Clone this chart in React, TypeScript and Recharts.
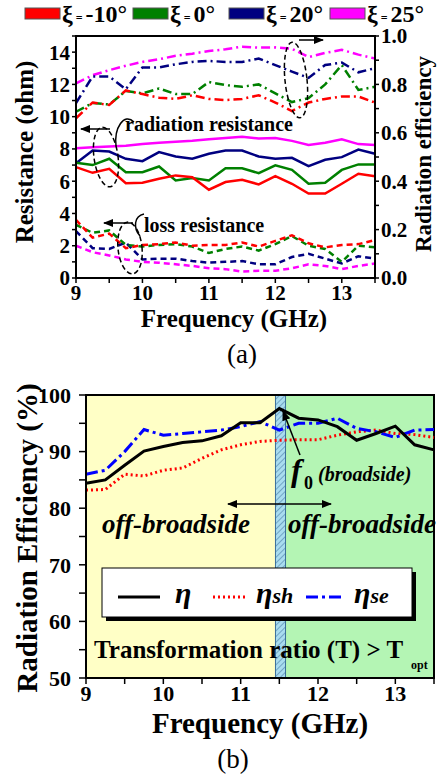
import { LineChart, Line, XAxis, YAxis, ReferenceArea } from 'recharts';

const freq = [9, 9.25, 9.5, 9.75, 10, 10.25, 10.5, 10.75, 11, 11.25, 11.5, 11.75, 12, 12.25, 12.5, 12.75, 13, 13.25, 13.5];

// (a) radiation efficiency (right axis)
const effM10 = [0.66, 0.725, 0.715, 0.775, 0.76, 0.745, 0.74, 0.755, 0.74, 0.735, 0.74, 0.755, 0.725, 0.69, 0.725, 0.74, 0.75, 0.75, 0.725];
const eff0 = [0.687, 0.723, 0.717, 0.773, 0.763, 0.783, 0.76, 0.76, 0.81, 0.797, 0.79, 0.8, 0.763, 0.727, 0.743, 0.8, 0.88, 0.777, 0.79];
const eff20 = [0.723, 0.833, 0.833, 0.78, 0.87, 0.87, 0.883, 0.893, 0.897, 0.893, 0.893, 0.907, 0.88, 0.853, 0.827, 0.88, 0.89, 0.85, 0.867];
const eff25 = [0.804, 0.838, 0.859, 0.877, 0.893, 0.904, 0.918, 0.927, 0.938, 0.945, 0.956, 0.952, 0.953, 0.947, 0.913, 0.93, 0.943, 0.923, 0.907];

// (a) radiation resistance (ohm)
const radM10 = [6.87, 6.52, 6.77, 5.88, 5.9, 6.15, 6.36, 6.25, 5.47, 5.95, 6.09, 5.8, 6.32, 5.84, 5.23, 5.23, 5.84, 6.46, 6.3];
const rad0 = [7.15, 7.0, 7.39, 6.56, 6.56, 6.91, 6.05, 6.2, 6.05, 6.81, 6.8, 6.5, 6.98, 6.7, 5.84, 5.9, 6.7, 7.04, 7.04];
const rad20 = [7.12, 7.9, 7.84, 7.39, 7.24, 7.8, 7.53, 7.39, 7.7, 7.9, 7.9, 7.53, 7.39, 7.45, 6.93, 7.33, 7.49, 7.96, 7.7];
const rad25 = [8.05, 8.1, 8.15, 8.2, 8.3, 8.38, 8.45, 8.5, 8.6, 8.68, 8.75, 8.65, 8.68, 8.5, 8.25, 8.38, 8.6, 8.3, 8.25];

// (a) loss resistance (ohm)
const lossM10 = [3.6, 2.5, 2.75, 1.85, 2.05, 2.1, 2.2, 2.0, 2.05, 2.05, 2.2, 1.95, 2.3, 2.65, 2.15, 1.9, 2.05, 2.1, 2.35];
const loss0 = [3.3, 2.8, 2.95, 2.05, 1.95, 2.05, 2.1, 1.95, 1.55, 1.8, 1.95, 1.7, 2.1, 2.6, 2.0, 1.8, 1.0, 2.0, 1.9];
const loss20 = [2.9, 1.85, 1.8, 2.2, 1.15, 1.2, 1.2, 1.05, 0.95, 1.0, 1.05, 0.85, 0.85, 1.3, 1.5, 1.2, 0.9, 1.35, 1.2];
const loss25 = [2.0, 1.6, 1.4, 1.15, 1.0, 0.95, 0.85, 0.75, 0.6, 0.55, 0.4, 0.45, 0.45, 0.6, 0.85, 0.75, 0.55, 0.75, 0.9];

// (b) efficiency (%)
const eta = [84.4, 85.0, 87.6, 90.1, 90.9, 91.6, 91.9, 92.8, 95.1, 95.1, 97.6, 95.9, 95.6, 94.4, 92.0, 93.2, 94.5, 91.2, 90.3];
const etaSh = [83.2, 83.3, 86.0, 85.7, 86.7, 87.1, 88.8, 90.3, 91.2, 91.8, 92.0, 92.1, 92.1, 92.9, 93.5, 93.8, 93.2, 93.0, 92.5];
const etaSe = [86.0, 86.7, 90.0, 93.9, 92.9, 93.2, 93.5, 93.8, 94.4, 95.3, 93.8, 95.0, 95.0, 95.9, 94.1, 93.5, 92.5, 93.8, 93.9];

const xTicks = [9, 9.5, 10, 10.5, 11, 11.5, 12, 12.5, 13, 13.5];
const resTicks = [0, 1, 2, 3, 4, 5, 6, 7, 8, 9, 10, 11, 12, 13, 14, 15];
const effTicks = [0, 0.1, 0.2, 0.3, 0.4, 0.5, 0.6, 0.7, 0.8, 0.9, 1.0];
const pctTicks = [50, 55, 60, 65, 70, 75, 80, 85, 90, 95, 100];

const legendA = [
  { color: '#ff0000', label: '-10°' },
  { color: '#008000', label: '0°' },
  { color: '#000080', label: '20°' },
  { color: '#ff00ff', label: '25°' },
];

const dataA = freq.map((f, i) => ({
  f,
  effM10: effM10[i], eff0: eff0[i], eff20: eff20[i], eff25: eff25[i],
  radM10: radM10[i], rad0: rad0[i], rad20: rad20[i], rad25: rad25[i],
  lossM10: lossM10[i], loss0: loss0[i], loss20: loss20[i], loss25: loss25[i],
}));

const dataB = freq.map((f, i) => ({ f, eta: eta[i], etaSh: etaSh[i], etaSe: etaSe[i] }));

const serif = 'Liberation Serif, Times New Roman, Tinos, DejaVu Serif, serif';
const tickStyleA = { fontFamily: serif, fontWeight: 700, fontSize: 21, fill: '#000' };
const tickStyleB = { fontFamily: serif, fontWeight: 700, fontSize: 22, fill: '#000' };
const axisLine = { stroke: '#000', strokeWidth: 2 };
const tickLine = { stroke: '#000', strokeWidth: 1.5 };

const DASHDOT = '9 4 2 4';
const DASH = '6 4';

function HatchBand(props: any) {
  const { x, y, width, height } = props;
  return (
    <g>
      <defs>
        <pattern id="hatch" width="4" height="4" patternUnits="userSpaceOnUse" patternTransform="rotate(45)">
          <rect width="4" height="4" fill="#a9dcef" />
          <line x1="0" y1="0" x2="0" y2="4" stroke="#3a6f9a" strokeWidth="1" />
        </pattern>
      </defs>
      <rect x={x} y={y} width={width} height={height} fill="url(#hatch)" stroke="#3a6f9a" strokeWidth={1} />
    </g>
  );
}

export default function App() {
  const sw = 2.5;
  return (
    <div style={{ position: 'absolute', left: 0, top: 0, width: 440, height: 781, background: '#fff', overflow: 'hidden', fontFamily: serif }}>
      <div style={{ position: 'absolute', left: 0, top: 0 }}>
        <LineChart width={440} height={312} data={dataA} margin={{ top: 36, right: 0, bottom: 0, left: 0 }}>
          <XAxis dataKey="f" type="number" domain={[9, 13.5]} ticks={xTicks} interval={0}
            tickFormatter={(v: number) => (Number.isInteger(v) ? String(v) : '')}
            tick={tickStyleA} axisLine={axisLine} tickLine={tickLine} tickSize={5} tickMargin={2} height={34} />
          <YAxis yAxisId="res" domain={[0, 15]} ticks={resTicks} interval={0}
            tickFormatter={(v: number) => (v % 2 === 0 && v < 15 ? String(v) : '')}
            tick={tickStyleA} axisLine={axisLine} tickLine={tickLine} tickSize={4} tickMargin={2} width={76} />
          <YAxis yAxisId="eff" orientation="right" domain={[0, 1]} ticks={effTicks} interval={0}
            tickFormatter={(v: number) => (Math.round(v * 10) % 2 === 0 ? v.toFixed(1) : '')}
            tick={tickStyleA} axisLine={axisLine} tickLine={tickLine} tickSize={4} tickMargin={2} width={65} />
          <ReferenceArea yAxisId="res" x1={9} x2={13.5} y1={0} y2={15} fill="none" stroke="#000" strokeWidth={2} />
          <Line yAxisId="eff" dataKey="eff25" stroke="#ff00ff" strokeWidth={sw} strokeDasharray={DASHDOT} dot={false} isAnimationActive={false} />
          <Line yAxisId="eff" dataKey="eff20" stroke="#000080" strokeWidth={sw} strokeDasharray={DASHDOT} dot={false} isAnimationActive={false} />
          <Line yAxisId="eff" dataKey="eff0" stroke="#008000" strokeWidth={sw} strokeDasharray={DASHDOT} dot={false} isAnimationActive={false} />
          <Line yAxisId="eff" dataKey="effM10" stroke="#ff0000" strokeWidth={sw} strokeDasharray={DASHDOT} dot={false} isAnimationActive={false} />
          <Line yAxisId="res" dataKey="rad25" stroke="#ff00ff" strokeWidth={sw} dot={false} isAnimationActive={false} />
          <Line yAxisId="res" dataKey="rad20" stroke="#000080" strokeWidth={sw} dot={false} isAnimationActive={false} />
          <Line yAxisId="res" dataKey="rad0" stroke="#008000" strokeWidth={sw} dot={false} isAnimationActive={false} />
          <Line yAxisId="res" dataKey="radM10" stroke="#ff0000" strokeWidth={sw} dot={false} isAnimationActive={false} />
          <Line yAxisId="res" dataKey="loss25" stroke="#ff00ff" strokeWidth={sw} strokeDasharray={DASH} dot={false} isAnimationActive={false} />
          <Line yAxisId="res" dataKey="loss20" stroke="#000080" strokeWidth={sw} strokeDasharray={DASH} dot={false} isAnimationActive={false} />
          <Line yAxisId="res" dataKey="loss0" stroke="#008000" strokeWidth={sw} strokeDasharray={DASH} dot={false} isAnimationActive={false} />
          <Line yAxisId="res" dataKey="lossM10" stroke="#ff0000" strokeWidth={sw} strokeDasharray={DASH} dot={false} isAnimationActive={false} />
        </LineChart>
      </div>

      <div style={{ position: 'absolute', left: 0, top: 380 }}>
        <LineChart width={440} height={334} data={dataB} margin={{ top: 15, right: 6, bottom: 0, left: 0 }}>
          <XAxis dataKey="f" type="number" domain={[9, 13.5]} ticks={xTicks} interval={0}
            tickFormatter={(v: number) => (Number.isInteger(v) ? String(v) : '')}
            tick={tickStyleB} axisLine={axisLine} tickLine={tickLine} tickSize={6} tickMargin={1} height={36} />
          <YAxis domain={[50, 100]} ticks={pctTicks} interval={0}
            tickFormatter={(v: number) => (v % 10 === 0 ? String(v) : '')}
            tick={tickStyleB} axisLine={axisLine} tickLine={tickLine} tickSize={7} tickMargin={8} width={86} />
          <ReferenceArea x1={9} x2={11.45} y1={50} y2={100} fill="#ffffc6" fillOpacity={1} />
          <ReferenceArea x1={11.58} x2={13.5} y1={50} y2={100} fill="#b4f5b4" fillOpacity={1} />
          <ReferenceArea x1={11.45} x2={11.58} y1={50} y2={100} shape={HatchBand} />
          <ReferenceArea x1={9} x2={13.5} y1={50} y2={100} fill="none" stroke="#000" strokeWidth={2} />
          <Line dataKey="etaSh" stroke="#ff0000" strokeWidth={3} strokeDasharray="2 3" dot={false} isAnimationActive={false} />
          <Line dataKey="etaSe" stroke="#0000ff" strokeWidth={3} strokeDasharray="12 4 3 4" dot={false} isAnimationActive={false} />
          <Line dataKey="eta" stroke="#000" strokeWidth={3} dot={false} isAnimationActive={false} />
        </LineChart>
      </div>

      <svg width={440} height={781} style={{ position: 'absolute', left: 0, top: 0, pointerEvents: 'none', fontFamily: serif }}>
        <defs>
          <marker id="ah" viewBox="0 0 10 10" refX="9" refY="5" markerWidth="7" markerHeight="7" orient="auto-start-reverse">
            <path d="M0,1 L10,5 L0,9 z" fill="#000" />
          </marker>
        </defs>

        {/* legend (a) */}
        {legendA.map((it, i) => {
          const x0 = [25, 133, 229, 330][i];
          return (
            <g key={it.label}>
              <rect x={x0} y={8} width={35} height={11} fill={it.color} stroke="#555" strokeWidth={1} />
              <text x={x0 + 37} y={22} fontSize={24} fontWeight={700}>
                ξ<tspan fontSize={12} dx={3}>=</tspan><tspan dx={3}>{it.label}</tspan>
              </text>
            </g>
          );
        })}

        {/* axis titles (a) */}
        <text transform="translate(33,152) rotate(-90)" textAnchor="middle" fontSize={25} fontWeight={700}>Resistance (ohm)</text>
        <text transform="translate(431,154) rotate(-90)" textAnchor="middle" fontSize={23} fontWeight={700}>Radiation efficiency</text>
        <text x={234} y={327} textAnchor="middle" fontSize={25} fontWeight={700}>Frequency (GHz)</text>
        <text x={242} y={363} textAnchor="middle" fontSize={27}>(a)</text>

        {/* annotations (a) */}
        <ellipse cx={296} cy={80} rx={11} ry={38} fill="none" stroke="#000" strokeWidth={1.5} strokeDasharray="5 3" transform="rotate(-6,296,80)" />
        <line x1={299} y1={40} x2={323} y2={40} stroke="#000" strokeWidth={1.5} markerEnd="url(#ah)" />
        <ellipse cx={106} cy={157} rx={12} ry={30} fill="none" stroke="#000" strokeWidth={1.5} strokeDasharray="5 3" transform="rotate(-8,106,157)" />
        <line x1={110} y1={129} x2={81} y2={129} stroke="#000" strokeWidth={1.5} markerEnd="url(#ah)" />
        <path d="M116,146 C114,128 124,112 134,122" fill="none" stroke="#000" strokeWidth={1.5} />
        <text x={125} y={131} fontSize={20} fontWeight={700}>radiation resistance</text>
        <ellipse cx={130} cy={248} rx={12} ry={26} fill="none" stroke="#000" strokeWidth={1.5} strokeDasharray="5 3" transform="rotate(-6,130,248)" />
        <line x1={133} y1={223} x2={104} y2={223} stroke="#000" strokeWidth={1.5} markerEnd="url(#ah)" />
        <path d="M140,236 C133,228 134,216 144,214" fill="none" stroke="#000" strokeWidth={1.5} />
        <text x={144} y={232} fontSize={20} fontWeight={700}>loss resistance</text>

        {/* axis titles (b) */}
        <text transform="translate(37,538) rotate(-90)" textAnchor="middle" fontSize={29} fontWeight={700}>Radiation Efficiency (%)</text>
        <text x={260} y={733} textAnchor="middle" fontSize={29} fontWeight={700}>Frequency (GHz)</text>
        <text x={233} y={768} textAnchor="middle" fontSize={27}>(b)</text>

        {/* annotations (b) */}
        <text x={291} y={481} fontSize={32} fontWeight={700} fontStyle="italic">f</text>
        <text x={304} y={489} fontSize={18} fontWeight={700}>0</text>
        <text x={318} y={481} fontSize={20} fontWeight={700} fontStyle="italic">(broadside)</text>
        <line x1={300} y1={455} x2={283} y2={411} stroke="#000" strokeWidth={1.5} markerEnd="url(#ah)" />
        <line x1={278} y1={504} x2={228} y2={504} stroke="#000" strokeWidth={1.5} markerEnd="url(#ah)" />
        <line x1={278} y1={504} x2={331} y2={504} stroke="#000" strokeWidth={1.5} markerEnd="url(#ah)" />
        <text x={176} y={533} textAnchor="middle" fontSize={27} fontWeight={700} fontStyle="italic">off-broadside</text>
        <text x={362} y={533} textAnchor="middle" fontSize={27} fontWeight={700} fontStyle="italic">off-broadside</text>

        {/* legend (b) */}
        <rect x={106} y={572} width={310} height={49} fill="#000" />
        <rect x={102} y={568} width={310} height={49} fill="#fff" stroke="#000" strokeWidth={1} />
        <line x1={118} y1={597} x2={160} y2={597} stroke="#000" strokeWidth={3} />
        <text x={175} y={603} fontSize={30} fontWeight={700} fontStyle="italic">η</text>
        <line x1={213} y1={597} x2={247} y2={597} stroke="#ff0000" strokeWidth={3} strokeDasharray="2 3" />
        <text x={256} y={603} fontSize={30} fontWeight={700} fontStyle="italic">η<tspan fontSize={22}>sh</tspan></text>
        <line x1={306} y1={597} x2={342} y2={597} stroke="#0000ff" strokeWidth={3} strokeDasharray="12 4 3 4" />
        <text x={354} y={603} fontSize={30} fontWeight={700} fontStyle="italic">η<tspan fontSize={22}>se</tspan></text>

        <text x={94} y={658} fontSize={25} fontWeight={700}>Transformation ratio (T) &gt; T</text>
        <text x={411} y={669} fontSize={12} fontWeight={700}>opt</text>
      </svg>
    </div>
  );
}
